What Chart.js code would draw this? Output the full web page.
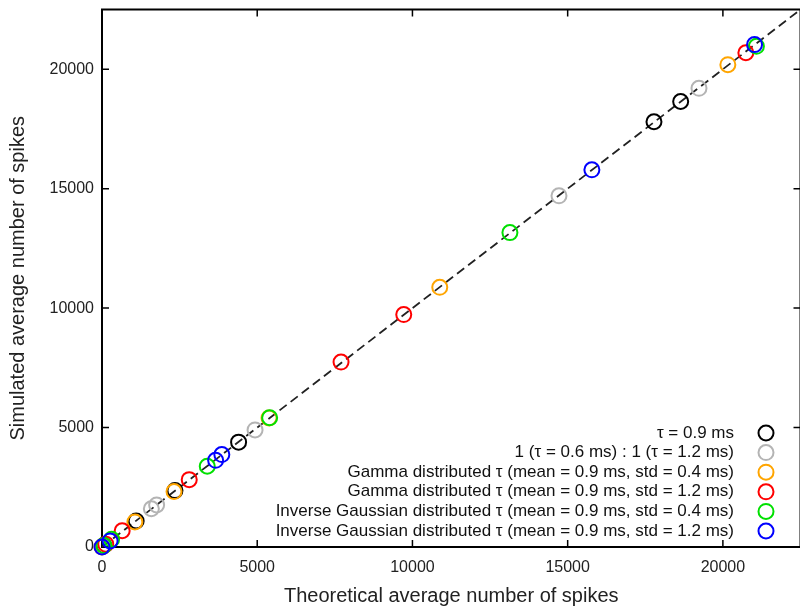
<!DOCTYPE html>
<html>
<head>
<meta charset="utf-8">
<script src="https://cdn.jsdelivr.net/npm/chart.js@4.4.1/dist/chart.umd.min.js"></script>
<style>
  html, body { margin: 0; padding: 0; overflow: hidden; background: #fff; }
  #wrap { width: 810px; height: 609px; }
</style>
</head>
<body>
<div id="wrap"><canvas id="spikeChart" width="810" height="609"></canvas></div>
<script>
// theoretical (x) vs simulated (y) average number of spikes
const tauFixedTheo = [60, 1100, 2350, 4400, 17780, 18640];
const tauFixedSim = [60, 1090, 2360, 4390, 17800, 18650];
const tauMixTheo = [40, 1590, 1760, 4930, 14720, 19230];
const tauMixSim = [40, 1600, 1760, 4900, 14700, 19200];
const gammaLowTheo = [0, 1060, 2320, 5380, 10880, 20160];
const gammaLowSim = [0, 1050, 2320, 5400, 10870, 20190];
const gammaHighTheo = [120, 650, 2810, 7700, 9720, 20740];
const gammaHighSim = [120, 680, 2820, 7740, 9730, 20690];
const invGaussLowTheo = [60, 310, 3390, 5400, 13140, 21080];
const invGaussLowSim = [60, 320, 3380, 5410, 13160, 20960];
const invGaussHighTheo = [0, 260, 3660, 3860, 15780, 21020];
const invGaussHighSim = [0, 250, 3630, 3870, 15790, 21030];

const seriesLabels = [
  'τ = 0.9 ms',
  '1 (τ = 0.6 ms) : 1 (τ = 1.2 ms)',
  'Gamma distributed τ (mean = 0.9 ms, std = 0.4 ms)',
  'Gamma distributed τ (mean = 0.9 ms, std = 1.2 ms)',
  'Inverse Gaussian distributed τ (mean = 0.9 ms, std = 0.4 ms)',
  'Inverse Gaussian distributed τ (mean = 0.9 ms, std = 1.2 ms)'
];
const seriesColors = ['#000000', '#b4b4b4', '#ffa500', '#ff0000', '#00e000', '#0000ff'];
const seriesTheo = [tauFixedTheo, tauMixTheo, gammaLowTheo, gammaHighTheo, invGaussLowTheo, invGaussHighTheo];
const seriesSim = [tauFixedSim, tauMixSim, gammaLowSim, gammaHighSim, invGaussLowSim, invGaussHighSim];

const axisMin = 0;
const axisMax = 22500;
const tickValues = [0, 5000, 10000, 15000, 20000];

const font = '"Liberation Sans", Arial, sans-serif';

const datasets = seriesLabels.map((label, i) => ({
  type: 'scatter',
  label: label,
  data: seriesTheo[i].map((v, j) => ({ x: v, y: seriesSim[i][j] })),
  borderColor: seriesColors[i],
  backgroundColor: 'rgba(0,0,0,0)',
  pointRadius: 7.5,
  pointHoverRadius: 7.5,
  borderWidth: 2,
  clip: false,
  order: seriesLabels.length - i
}));

// identity line y = x
datasets.push({
  type: 'line',
  label: 'identity',
  data: [{ x: axisMin, y: axisMin }, { x: axisMax, y: axisMax }],
  borderColor: '#222',
  borderWidth: 1.8,
  borderDash: [9, 5],
  pointRadius: 0,
  fill: false,
  order: 10
});

const frame = {
  id: 'frame',
  beforeDatasetsDraw(chart) {
    const { ctx, chartArea: a, scales: { x, y } } = chart;
    ctx.save();
    ctx.strokeStyle = '#000';
    ctx.lineWidth = 1.5;
    ctx.beginPath();
    x.ticks.forEach(t => {
      const px = x.getPixelForValue(t.value);
      ctx.moveTo(px, a.bottom); ctx.lineTo(px, a.bottom - 7);
      ctx.moveTo(px, a.top); ctx.lineTo(px, a.top + 7);
    });
    y.ticks.forEach(t => {
      const py = y.getPixelForValue(t.value);
      ctx.moveTo(a.left, py); ctx.lineTo(a.left + 7, py);
      ctx.moveTo(a.right, py); ctx.lineTo(a.right - 7, py);
    });
    ctx.stroke();
    ctx.lineWidth = 2;
    ctx.strokeRect(a.left, a.top, a.right - a.left, a.bottom - a.top);
    ctx.restore();
  }
};

const legendBox = {
  id: 'legendBox',
  afterDatasetsDraw(chart) {
    const ctx = chart.ctx;
    ctx.save();
    ctx.font = '17px ' + font;
    ctx.textAlign = 'right';
    ctx.textBaseline = 'middle';
    ctx.fillStyle = '#111';
    seriesLabels.forEach((label, i) => {
      const ly = 433 + i * 19.6;
      ctx.fillText(label, 734, ly);
      ctx.beginPath();
      ctx.arc(766, ly, 7.5, 0, Math.PI * 2);
      ctx.strokeStyle = seriesColors[i];
      ctx.lineWidth = 2;
      ctx.stroke();
    });
    ctx.restore();
  }
};

new Chart(document.getElementById('spikeChart'), {
  data: { datasets: datasets },
  options: {
    responsive: false,
    animation: false,
    layout: { padding: { top: 7, right: 4, left: 0, bottom: 0 } },
    plugins: {
      legend: { display: false },
      tooltip: { enabled: false }
    },
    scales: {
      x: {
        type: 'linear',
        min: axisMin,
        max: axisMax,
        afterBuildTicks: s => { s.ticks = tickValues.map(v => ({ value: v })); },
        afterFit: s => { s.height = 62; s.paddingLeft = 0; s.paddingRight = 0; },
        grid: { display: false, drawTicks: false },
        border: { display: false },
        ticks: { color: '#222', padding: 11, font: { family: font, size: 16 }, callback: v => String(v) },
        title: {
          display: true,
          text: 'Theoretical average number of spikes',
          color: '#222',
          font: { family: font, size: 20 },
          padding: { top: 0, bottom: 1 }
        }
      },
      y: {
        type: 'linear',
        min: axisMin,
        max: axisMax,
        afterBuildTicks: s => { s.ticks = tickValues.map(v => ({ value: v })); },
        afterFit: s => { s.width = 102; s.paddingTop = 0; s.paddingBottom = 0; },
        grid: { display: false, drawTicks: false },
        border: { display: false },
        ticks: { color: '#222', padding: 8, font: { family: font, size: 16 }, callback: v => String(v) },
        title: {
          display: true,
          text: 'Simulated average number of spikes',
          color: '#222',
          font: { family: font, size: 20 },
          padding: { top: 6, bottom: 0 }
        }
      }
    }
  },
  plugins: [frame, legendBox]
});
</script>
</body>
</html>
